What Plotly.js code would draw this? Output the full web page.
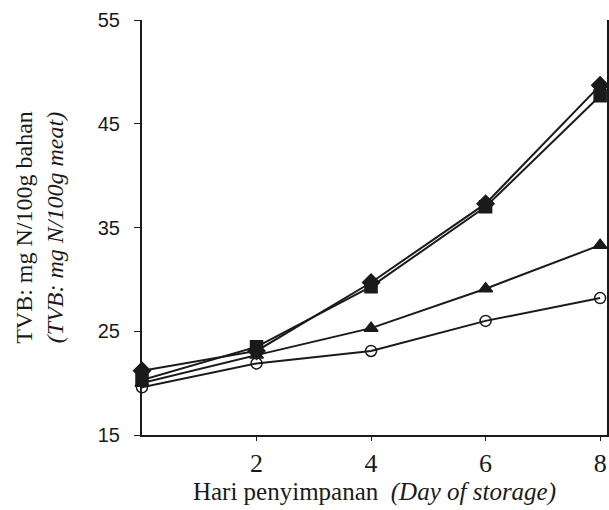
<!DOCTYPE html>
<html>
<head>
<meta charset="utf-8">
<script src="https://cdn.plot.ly/plotly-3.0.1.min.js"></script>
<style>html,body{margin:0;padding:0;background:#fff;}#chart{width:609px;height:510px;}</style>
</head>
<body>
<div id="chart"></div>
<script>
const days = [0, 2, 4, 6, 8];
const seriesDiamond = [21.2, 23.1, 29.7, 37.3, 48.7];
const seriesSquare = [20.3, 23.5, 29.3, 37.0, 47.7];
const seriesTriangle = [20.0, 22.7, 25.3, 29.1, 33.3];
const seriesCircle = [19.6, 21.9, 23.1, 26.0, 28.2];
const xTicks = [2, 4, 6, 8];
const yTicks = [15, 25, 35, 45, 55];

function tr(y, symbol, size) {
  return {
    x: days, y: y, type: 'scatter', mode: 'lines+markers', cliponaxis: false,
    line: {color: '#1a1a1a', width: 2},
    marker: {symbol: symbol, size: size, color: '#1a1a1a', line: {color: '#1a1a1a', width: 1.5}}
  };
}
const data = [
  tr(seriesCircle, 'circle-open', 11),
  tr(seriesTriangle, 'triangle-up', 12),
  tr(seriesDiamond, 'diamond', 13),
  tr(seriesSquare, 'square', 12)
];
const layout = {
  width: 609, height: 510,
  margin: {l: 142, r: 2, t: 20, b: 75},
  paper_bgcolor: '#fff', plot_bgcolor: '#fff',
  showlegend: false,
  xaxis: {
    range: [0, 8.12], tickvals: xTicks, ticktext: xTicks.map(String),
    showgrid: false, zeroline: false, showline: true, linecolor: '#1a1a1a', linewidth: 2,
    ticks: 'outside', ticklen: 4, tickcolor: '#1a1a1a',
    ticklabelstandoff: 0,
    tickfont: {family: 'Liberation Serif, Times New Roman, serif', size: 26, color: '#1a1a1a'},
    title: {text: 'Hari penyimpanan  <i>(Day of storage)</i>', standoff: 2,
      font: {family: 'Liberation Serif, Times New Roman, serif', size: 25, color: '#1a1a1a'}}
  },
  yaxis: {
    range: [15, 55], tickvals: yTicks, ticktext: yTicks.map(String),
    showgrid: false, zeroline: false, showline: true, linecolor: '#1a1a1a', linewidth: 2,
    mirror: true,
    ticks: 'outside', ticklen: 6, tickcolor: '#1a1a1a', ticklabelstandoff: 10,
    tickfont: {family: 'Liberation Sans, Arial, sans-serif', size: 20, color: '#1a1a1a'},
    title: {text: 'TVB: mg N/100g bahan<br><i>(TVB: mg N/100g meat)</i>', standoff: 27,
      font: {family: 'Liberation Serif, Times New Roman, serif', size: 24, color: '#1a1a1a'}}
  }
};
Plotly.newPlot('chart', data, layout, {displayModeBar: false, staticPlot: true});
</script>
</body>
</html>
